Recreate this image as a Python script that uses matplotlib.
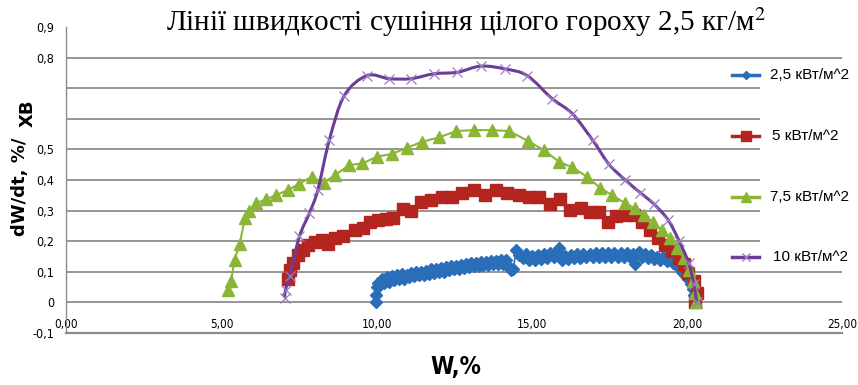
import matplotlib
matplotlib.use("Agg")
import matplotlib.pyplot as plt
from matplotlib.path import Path
from matplotlib.patches import PathPatch, Rectangle
from matplotlib.lines import Line2D
import numpy as np

plt.rcParams['mathtext.fontset'] = 'stix'

# ---- data -------------------------------------------------------------
title = "Лінії швидкості сушіння цілого гороху 2,5 кг/м$^2$"
series_labels = ["2,5 кВт/м^2", "5 кВт/м^2", "7,5 кВт/м^2", "10 кВт/м^2"]

w_25 = [9.97, 9.98, 10.00, 10.03, 10.08, 10.16, 10.24, 10.32, 10.40, 10.48,
        10.56, 10.64, 10.72, 10.80, 10.88, 10.96, 11.04, 11.12, 11.20, 11.28,
        11.36, 11.44, 11.52, 11.60, 11.68, 11.76, 11.84, 11.92, 12.00, 12.08,
        12.16, 12.24, 12.32, 12.40, 12.48, 12.56, 12.64, 12.72, 12.80, 12.88,
        12.96, 13.04, 13.12, 13.20, 13.28, 13.36, 13.44, 13.52, 13.60, 13.68,
        13.76, 13.84, 13.92, 14.00, 14.08, 14.16, 14.24, 14.32, 14.40, 14.50,
        14.60, 14.70, 14.80, 14.90, 15.00, 15.10, 15.20, 15.30, 15.40, 15.50,
        15.60, 15.70, 15.80, 15.88, 15.96, 16.06, 16.16, 16.26, 16.36, 16.46,
        16.56, 16.66, 16.76, 16.86, 16.96, 17.06, 17.16, 17.26, 17.36, 17.46,
        17.56, 17.66, 17.76, 17.86, 17.96, 18.06, 18.16, 18.26, 18.34, 18.44,
        18.54, 18.64, 18.74, 18.84, 18.94, 19.04, 19.14, 19.24, 19.34, 19.44,
        19.54, 19.64, 19.74, 19.84, 19.94, 20.04, 20.12, 20.18, 20.23, 20.27]
rate_25 = [0.000, 0.025, 0.050, 0.065, 0.055, 0.075, 0.062, 0.082, 0.068, 0.085,
           0.072, 0.088, 0.078, 0.092, 0.075, 0.090, 0.082, 0.095, 0.085, 0.098,
           0.088, 0.100, 0.090, 0.104, 0.094, 0.108, 0.097, 0.110, 0.100, 0.113,
           0.098, 0.115, 0.105, 0.118, 0.108, 0.120, 0.110, 0.123, 0.113, 0.125,
           0.115, 0.128, 0.118, 0.130, 0.120, 0.132, 0.122, 0.133, 0.123, 0.135,
           0.125, 0.136, 0.126, 0.138, 0.127, 0.140, 0.120, 0.105, 0.110, 0.172,
           0.155, 0.145, 0.158, 0.140, 0.152, 0.138, 0.155, 0.142, 0.158, 0.145,
           0.160, 0.148, 0.165, 0.178, 0.140, 0.152, 0.142, 0.155, 0.145, 0.157,
           0.146, 0.158, 0.147, 0.158, 0.148, 0.160, 0.148, 0.160, 0.148, 0.162,
           0.150, 0.162, 0.150, 0.160, 0.150, 0.160, 0.148, 0.158, 0.125, 0.165,
           0.150, 0.158, 0.145, 0.155, 0.142, 0.150, 0.138, 0.147, 0.135, 0.140,
           0.128, 0.125, 0.112, 0.100, 0.090, 0.075, 0.060, 0.045, 0.025, 0.005]

w_5 = [7.13, 7.19, 7.29, 7.45, 7.61, 7.80, 8.01, 8.22, 8.43, 8.66,
       8.92, 9.30, 9.55, 9.78, 10.05, 10.30, 10.53, 10.84, 11.12, 11.43,
       11.76, 12.09, 12.41, 12.76, 13.12, 13.49, 13.83, 14.21, 14.57, 14.91,
       15.23, 15.60, 15.92, 16.24, 16.57, 16.87, 17.15, 17.44, 17.71, 18.01,
       18.28, 18.55, 18.82, 19.08, 19.30, 19.51, 19.73, 19.89, 20.03, 20.21,
       20.31, 20.27]
rate_5 = [0.075, 0.107, 0.129, 0.156, 0.172, 0.189, 0.198, 0.205, 0.190, 0.210,
          0.218, 0.237, 0.243, 0.262, 0.270, 0.272, 0.276, 0.305, 0.298, 0.329,
          0.335, 0.343, 0.346, 0.358, 0.368, 0.351, 0.367, 0.359, 0.352, 0.346,
          0.344, 0.322, 0.337, 0.302, 0.308, 0.297, 0.297, 0.264, 0.283, 0.286,
          0.286, 0.264, 0.237, 0.210, 0.189, 0.167, 0.145, 0.124, 0.097, 0.069,
          0.032, 0.000]

w_75 = [5.22, 5.30, 5.42, 5.58, 5.75, 5.88, 6.11, 6.44, 6.76, 7.13,
        7.49, 7.90, 8.29, 8.65, 9.12, 9.54, 10.00, 10.49, 10.99, 11.47,
        12.00, 12.57, 13.13, 13.70, 14.26, 14.87, 15.39, 15.87, 16.30, 16.78,
        17.21, 17.58, 18.01, 18.31, 18.60, 18.89, 19.19, 19.46, 19.68, 19.89,
        20.07, 20.18, 20.26, 20.28]
rate_75 = [0.040, 0.069, 0.140, 0.190, 0.275, 0.300, 0.324, 0.337, 0.351, 0.367,
           0.387, 0.410, 0.391, 0.416, 0.449, 0.454, 0.476, 0.485, 0.506, 0.525,
           0.539, 0.560, 0.563, 0.563, 0.560, 0.528, 0.497, 0.460, 0.441, 0.411,
           0.373, 0.351, 0.324, 0.308, 0.286, 0.264, 0.237, 0.210, 0.178, 0.145,
           0.107, 0.069, 0.032, 0.000]

w_10 = [7.03, 7.06, 7.19, 7.51, 7.83, 8.10, 8.47, 8.95, 9.68, 10.40,
        11.10, 11.85, 12.60, 13.35, 14.13, 14.85, 15.65, 16.30, 16.96, 17.48,
        18.01, 18.50, 18.95, 19.40, 19.75, 20.05, 20.22, 20.31]
rate_10 = [0.015, 0.042, 0.086, 0.216, 0.292, 0.367, 0.530, 0.675, 0.741, 0.731,
           0.731, 0.747, 0.752, 0.772, 0.763, 0.741, 0.666, 0.617, 0.530, 0.452,
           0.400, 0.358, 0.320, 0.268, 0.200, 0.130, 0.060, 0.000]

y_ticks = [-0.1, 0.0, 0.1, 0.2, 0.3, 0.4, 0.5, 0.6, 0.7, 0.8, 0.9]
y_tick_labels = ["-0,1", "0", "0,1", "0,2", "0,3", "0,4", "0,5", "", "", "0,8", "0,9"]
x_ticks = [0, 5, 10, 15, 20, 25]
x_tick_labels = ["0,00", "5,00", "10,00", "15,00", "20,00", "25,00"]
grid_levels = [0.0, 0.1, 0.2, 0.3, 0.4, 0.5, 0.6, 0.7, 0.8]

# ---- style ------------------------------------------------------------
BLUE = "#2A6DB8"
RED = "#B5251F"
GREEN = "#8BB534"
PURPLE = "#6B3D98"
PURPLE_MK = "#9B7CC4"
GRID = "#8C8C8C"
Y_TICK_FONT = dict(family="DejaVu Sans", stretch="condensed", fontsize=9)
X_TICK_FONT = dict(family="DejaVu Sans", stretch="condensed", fontsize=8.5)


def smooth_path(xs, ys):
    """Catmull-Rom style smoothed path through the points (as a Bezier path)."""
    pts = np.column_stack([xs, ys])
    n = len(pts)
    verts = [pts[0]]
    codes = [Path.MOVETO]
    for i in range(n - 1):
        p0 = pts[i - 1] if i > 0 else pts[i]
        p1 = pts[i]
        p2 = pts[i + 1]
        p3 = pts[i + 2] if i + 2 < n else pts[i + 1]
        c1 = p1 + (p2 - p0) / 6.0
        c2 = p2 - (p3 - p1) / 6.0
        verts += [c1, c2, p2]
        codes += [Path.CURVE4] * 3
    return Path(verts, codes)


fig = plt.figure(figsize=(8.58, 3.85), dpi=100)
ax = fig.add_axes([0.0775, 0.135, 0.9040, 0.795])
ax.set_xlim(0, 25)
ax.set_ylim(-0.1, 0.9)

ax.hlines(grid_levels, 0, 25, colors=GRID, linewidth=1.3, zorder=1)

for s in ["top", "right"]:
    ax.spines[s].set_visible(False)
ax.spines["left"].set_color(GRID)
ax.spines["bottom"].set_color(GRID)
ax.spines["left"].set_linewidth(1.0)
ax.spines["bottom"].set_linewidth(1.6)

ax.set_yticks(y_ticks)
ax.set_yticklabels(y_tick_labels, **Y_TICK_FONT)
ax.set_xticks(x_ticks)
ax.set_xticklabels(x_tick_labels, **X_TICK_FONT)
ax.tick_params(axis="y", length=0, pad=9)
ax.tick_params(axis="x", length=0, pad=-6)
for lab in ax.get_xticklabels():
    lab.set_va("center")

# series
ax.plot(w_25, rate_25, color=BLUE, lw=1.2, marker="D", ms=6.3,
        mfc=BLUE, mec=BLUE, zorder=3)
ax.plot(w_5, rate_5, color=RED, lw=1.2, marker="s", ms=9,
        mfc=RED, mec=RED, zorder=3)
ax.plot(w_75, rate_75, color=GREEN, lw=1.5, marker="^", ms=8,
        mfc=GREEN, mec=GREEN, zorder=4)
ax.add_patch(PathPatch(smooth_path(w_10, rate_10), facecolor="none",
                       edgecolor=PURPLE, lw=2.2, zorder=5))
ax.plot(w_10, rate_10, ls="none", marker="x", ms=7.5, mew=0.9,
        color=PURPLE_MK, zorder=6)

# legend panel
fig.add_artist(Rectangle((760 / 858, (385 - 268) / 385), 98 / 858, 206 / 385,
                         transform=fig.transFigure, facecolor="white",
                         edgecolor="none", zorder=2))
legend_rows = [75, 136, 197, 257]
legend_x = [770, 772, 770, 773]
legend_style = [
    dict(color=BLUE, marker="D", ms=4.5, mfc=BLUE, mec=BLUE, lw=2.5),
    dict(color=RED, marker="s", ms=6.5, mfc=RED, mec=RED, lw=2.5),
    dict(color=GREEN, marker="^", ms=6.5, mfc=GREEN, mec=GREEN, lw=2.5),
    dict(color=PURPLE, marker="x", ms=6, mew=1.0, mec=PURPLE_MK, lw=2.5),
]
for row, tx, lab, st in zip(legend_rows, legend_x, series_labels, legend_style):
    yf = (385 - row) / 385
    fig.add_artist(Line2D([732 / 858, 745.5 / 858, 759 / 858], [yf, yf, yf],
                          transform=fig.transFigure, markevery=[1],
                          zorder=3, **st))
    fig.text(tx / 858, yf, lab, ha="left", va="center",
             family=["Liberation Sans", "DejaVu Sans"], fontsize=11, zorder=3)

# titles
fig.text(466 / 858, 1 - 22 / 385, title, ha="center", va="center",
         family=["Liberation Serif", "DejaVu Serif"], fontsize=21)
fig.text(20 / 858, 1 - 187 / 385, "dW/dt, %/", rotation=90, ha="center",
         va="center", family="DejaVu Sans", fontweight="bold", fontsize=13)
fig.text(27.5 / 858, 1 - 113 / 385, "ХВ", rotation=90, ha="center",
         va="center", family="DejaVu Sans", fontweight="bold", fontsize=13)
fig.text(456 / 858, 1 - 367 / 385, "W,%", ha="center", va="center",
         family="DejaVu Sans", stretch="condensed", fontweight="bold",
         fontsize=17)

fig.savefig("out.png", dpi=100)
